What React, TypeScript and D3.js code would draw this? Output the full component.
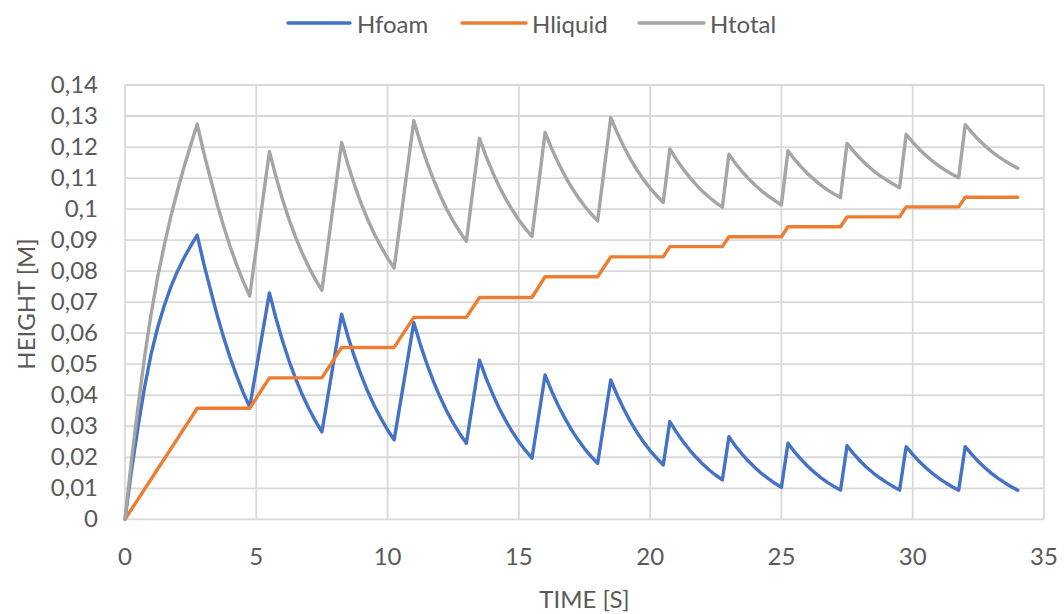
import React from "react";
import * as d3 from "d3";

// Time [s]
const time = [
  0, 0.25, 0.5, 0.75, 1, 1.25, 1.5, 1.75, 2, 2.25, 2.5, 2.75,
  3, 3.25, 3.5, 3.75, 4, 4.25, 4.5, 4.75,
  5.5, 5.75, 6, 6.25, 6.5, 6.75, 7, 7.25, 7.5,
  8.25, 8.5, 8.75, 9, 9.25, 9.5, 9.75, 10, 10.25,
  11, 11.25, 11.5, 11.75, 12, 12.25, 12.5, 12.75, 13,
  13.5, 13.75, 14, 14.25, 14.5, 14.75, 15, 15.25, 15.5,
  16, 16.25, 16.5, 16.75, 17, 17.25, 17.5, 17.75, 18,
  18.5, 18.75, 19, 19.25, 19.5, 19.75, 20, 20.25, 20.5,
  20.75, 21, 21.25, 21.5, 21.75, 22, 22.25, 22.5, 22.75,
  23, 23.25, 23.5, 23.75, 24, 24.25, 24.5, 24.75, 25,
  25.25, 25.5, 25.75, 26, 26.25, 26.5, 26.75, 27, 27.25,
  27.5, 27.75, 28, 28.25, 28.5, 28.75, 29, 29.25, 29.5,
  29.75, 30, 30.25, 30.5, 30.75, 31, 31.25, 31.5, 31.75,
  32, 32.25, 32.5, 32.75, 33, 33.25, 33.5, 33.75, 34,
];

const hfoam = [
  0, 0.016, 0.03, 0.0428, 0.0535, 0.062, 0.069, 0.075, 0.08, 0.0843, 0.0881, 0.0916,
  0.0824, 0.0742, 0.0661, 0.0588, 0.0522, 0.0463, 0.0409, 0.0362,
  0.073, 0.0648, 0.0575, 0.051, 0.0453, 0.0402, 0.0357, 0.0317, 0.0282,
  0.0661, 0.0587, 0.0521, 0.0463, 0.0411, 0.0365, 0.0325, 0.0288, 0.0256,
  0.0634, 0.0563, 0.05, 0.0444, 0.0394, 0.0349, 0.031, 0.0276, 0.0245,
  0.0513, 0.0455, 0.0404, 0.0358, 0.0318, 0.0282, 0.025, 0.0222, 0.0197,
  0.0465, 0.0413, 0.0367, 0.0326, 0.0289, 0.0257, 0.0228, 0.0203, 0.018,
  0.0449, 0.0399, 0.0355, 0.0315, 0.028, 0.0249, 0.0221, 0.0197, 0.0175,
  0.0315, 0.0281, 0.0251, 0.0224, 0.02, 0.0178, 0.0159, 0.0142, 0.0127,
  0.0266, 0.0236, 0.021, 0.0187, 0.0166, 0.0147, 0.0131, 0.0116, 0.0103,
  0.0245, 0.0217, 0.0193, 0.0171, 0.0152, 0.0134, 0.0119, 0.0106, 0.0094,
  0.0237, 0.0211, 0.0188, 0.0167, 0.0149, 0.0133, 0.0119, 0.0106, 0.0094,
  0.0234, 0.0209, 0.0186, 0.0166, 0.0148, 0.0132, 0.0118, 0.0105, 0.0094,
  0.0234, 0.0209, 0.0186, 0.0166, 0.0148, 0.0132, 0.0118, 0.0105, 0.0094,
];

const hliquid = [
  0, 0.0033, 0.0065, 0.0098, 0.013, 0.0163, 0.0195, 0.0228, 0.026, 0.0293, 0.0325, 0.0358,
  0.0358, 0.0358, 0.0358, 0.0358, 0.0358, 0.0358, 0.0358, 0.0358,
  0.0456, 0.0456, 0.0456, 0.0456, 0.0456, 0.0456, 0.0456, 0.0456, 0.0456,
  0.0554, 0.0554, 0.0554, 0.0554, 0.0554, 0.0554, 0.0554, 0.0554, 0.0554,
  0.0651, 0.0651, 0.0651, 0.0651, 0.0651, 0.0651, 0.0651, 0.0651, 0.0651,
  0.0715, 0.0715, 0.0715, 0.0715, 0.0715, 0.0715, 0.0715, 0.0715, 0.0715,
  0.0782, 0.0782, 0.0782, 0.0782, 0.0782, 0.0782, 0.0782, 0.0782, 0.0782,
  0.0846, 0.0846, 0.0846, 0.0846, 0.0846, 0.0846, 0.0846, 0.0846, 0.0846,
  0.0879, 0.0879, 0.0879, 0.0879, 0.0879, 0.0879, 0.0879, 0.0879, 0.0879,
  0.0911, 0.0911, 0.0911, 0.0911, 0.0911, 0.0911, 0.0911, 0.0911, 0.0911,
  0.0943, 0.0943, 0.0943, 0.0943, 0.0943, 0.0943, 0.0943, 0.0943, 0.0943,
  0.0975, 0.0975, 0.0975, 0.0975, 0.0975, 0.0975, 0.0975, 0.0975, 0.0975,
  0.1007, 0.1007, 0.1007, 0.1007, 0.1007, 0.1007, 0.1007, 0.1007, 0.1007,
  0.1038, 0.1038, 0.1038, 0.1038, 0.1038, 0.1038, 0.1038, 0.1038, 0.1038,
];

const htotal = [
  0, 0.0193, 0.0365, 0.0526, 0.0665, 0.0783, 0.0885, 0.0978, 0.106, 0.1136, 0.1206, 0.1274,
  0.1182, 0.11, 0.1019, 0.0946, 0.088, 0.0821, 0.0767, 0.072,
  0.1186, 0.1104, 0.1031, 0.0966, 0.0909, 0.0858, 0.0813, 0.0773, 0.0738,
  0.1215, 0.1141, 0.1075, 0.1017, 0.0965, 0.0919, 0.0879, 0.0842, 0.081,
  0.1285, 0.1214, 0.1151, 0.1095, 0.1045, 0.1, 0.0961, 0.0927, 0.0896,
  0.1228, 0.117, 0.1119, 0.1073, 0.1033, 0.0997, 0.0965, 0.0937, 0.0912,
  0.1247, 0.1195, 0.1149, 0.1108, 0.1071, 0.1039, 0.101, 0.0985, 0.0962,
  0.1295, 0.1245, 0.1201, 0.1161, 0.1126, 0.1095, 0.1067, 0.1043, 0.1021,
  0.1194, 0.116, 0.113, 0.1103, 0.1079, 0.1057, 0.1038, 0.1021, 0.1006,
  0.1177, 0.1147, 0.1121, 0.1098, 0.1077, 0.1058, 0.1042, 0.1027, 0.1014,
  0.1188, 0.116, 0.1136, 0.1114, 0.1095, 0.1077, 0.1062, 0.1049, 0.1037,
  0.1212, 0.1186, 0.1163, 0.1142, 0.1124, 0.1108, 0.1094, 0.1081, 0.1069,
  0.1241, 0.1216, 0.1193, 0.1173, 0.1155, 0.1139, 0.1125, 0.1112, 0.1101,
  0.1272, 0.1247, 0.1224, 0.1204, 0.1186, 0.117, 0.1156, 0.1143, 0.1132,
];

const seriesNames = ["Hfoam", "Hliquid", "Htotal"];
const seriesColors = ["#4472C4", "#ED7D31", "#A5A5A5"];
const seriesValues = [hfoam, hliquid, htotal];

const xTicks = [0, 5, 10, 15, 20, 25, 30, 35];
const yTicks = [0, 0.01, 0.02, 0.03, 0.04, 0.05, 0.06, 0.07, 0.08, 0.09, 0.1, 0.11, 0.12, 0.13, 0.14];

const xTitle = "TIME [S]";
const yTitle = "HEIGHT [M]";

const FONT = "Lato, 'Open Sans', sans-serif";
const TEXT = "#595959";
const GRID = "#D9D9D9";

export default function App() {
  const W = 1064;
  const H = 614;
  const left = 125;
  const right = 1044;
  const top = 85;
  const bottom = 519.3;

  const x = d3.scaleLinear().domain([0, 35]).range([left, right]);
  const y = d3.scaleLinear().domain([0, 0.14]).range([bottom, top]);

  const fmtY = (v: number) => (v === 0 ? "0" : d3.format(".2~f")(v).replace(".", ","));

  const line = d3
    .line<number>()
    .x((_, i) => x(time[i]))
    .y((d) => y(d));

  const legendItems = [
    { x0: 288, x1: 350, tx: 357 },
    { x0: 462, x1: 526, tx: 532 },
    { x0: 639, x1: 704, tx: 710 },
  ];
  const legendY = 23;

  return (
    <svg
      width={W}
      height={H}
      style={{ position: "absolute", left: 0, top: 0, background: "#fff" }}
      fontFamily={FONT}
    >
      <rect x={0} y={0} width={W} height={H} fill="#fff" />
      {yTicks.map((t) => (
        <line key={"gy" + t} x1={left} x2={right} y1={y(t)} y2={y(t)} stroke={GRID} strokeWidth={1.8} />
      ))}
      {xTicks.map((t) => (
        <line key={"gx" + t} x1={x(t)} x2={x(t)} y1={top} y2={bottom} stroke={GRID} strokeWidth={1.8} />
      ))}
      {yTicks.map((t) => (
        <text
          key={"ty" + t}
          x={98}
          y={y(t) - 2}
          textAnchor="end"
          dominantBaseline="central"
          fontSize={24}
          fill={TEXT}
        >
          {fmtY(t)}
        </text>
      ))}
      {xTicks.map((t) => (
        <text
          key={"tx" + t}
          x={x(t)}
          y={555}
          textAnchor="middle"
          dominantBaseline="central"
          fontSize={24}
          fill={TEXT}
        >
          {t}
        </text>
      ))}
      <text x={(left + right) / 2} y={598} textAnchor="middle" dominantBaseline="central" fontSize={24} fill={TEXT}>
        {xTitle}
      </text>
      <text
        transform={`translate(25,304) rotate(-90)`}
        textAnchor="middle"
        dominantBaseline="central"
        fontSize={24}
        fill={TEXT}
      >
        {yTitle}
      </text>
      {seriesValues.map((vals, si) => (
        <path
          key={seriesNames[si]}
          d={line(vals) || ""}
          fill="none"
          stroke={seriesColors[si]}
          strokeWidth={3.4}
          strokeLinejoin="round"
          strokeLinecap="round"
        />
      ))}
      {seriesNames.map((name, i) => (
        <g key={"lg" + name}>
          <line
            x1={legendItems[i].x0}
            x2={legendItems[i].x1}
            y1={legendY}
            y2={legendY}
            stroke={seriesColors[i]}
            strokeWidth={3.4}
            strokeLinecap="round"
          />
          <text x={legendItems[i].tx} y={legendY} dominantBaseline="central" fontSize={24} fill={TEXT}>
            {name}
          </text>
        </g>
      ))}
    </svg>
  );
}
